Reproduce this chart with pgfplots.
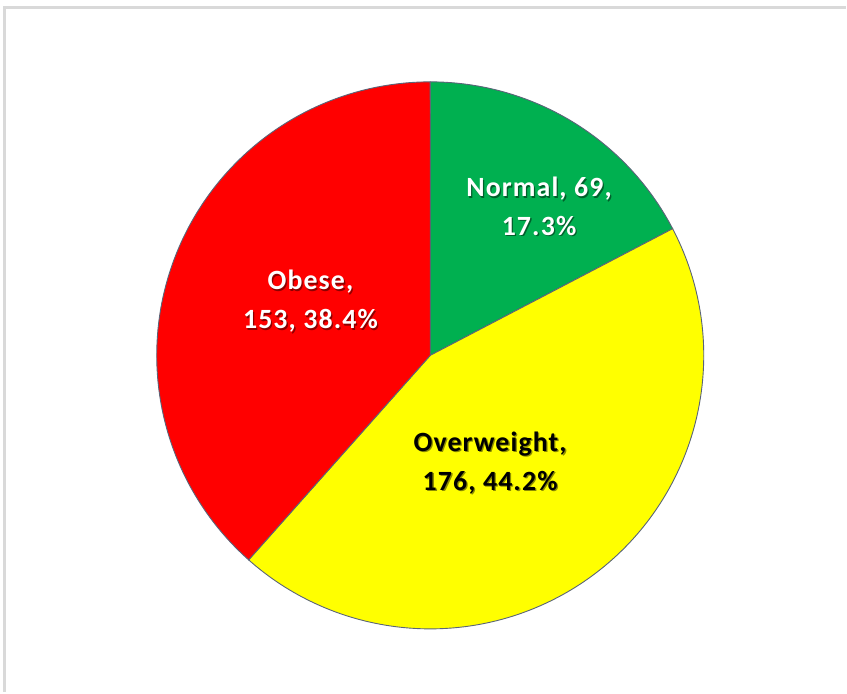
\documentclass[border=0pt]{standalone}
\usepackage{pgfplots}
\pgfplotsset{compat=1.18}
\usepackage{fontspec}
\setmainfont{Carlito}
\newfontfamily\lab[LetterSpace=4]{Carlito}
\definecolor{cgreen}{HTML}{00B050}
\definecolor{cred}{HTML}{FF0000}
\definecolor{cyellow}{HTML}{FFFF00}
\definecolor{cframe}{HTML}{D9D9D9}
\definecolor{cedge}{HTML}{5A6478}
% data
\def\vNormal{69}
\def\vOverweight{176}
\def\vObese{153}
\pgfmathsetmacro\tot{\vNormal+\vOverweight+\vObese}
\pgfmathsetmacro\aA{90}
\pgfmathsetmacro\aB{\aA-\vNormal/\tot*360}
\pgfmathsetmacro\aC{\aB-\vOverweight/\tot*360}
\pgfmathsetmacro\aD{\aC-\vObese/\tot*360}
\def\cx{431}
\def\cy{337}
\def\rr{274}
\newcommand{\plab}[4]{%
  \node[align=center,text=black,opacity=0.45,font=\lab\bfseries\fontsize{28}{39}\selectfont] at (axis cs:#1+1.3,#2-1.3) {#4};
  \node[align=center,text=#3,font=\lab\bfseries\fontsize{28}{39}\selectfont] at (axis cs:#1,#2) {#4};}
\begin{document}
\begin{tikzpicture}
\begin{axis}[
  scale only axis, width=847bp, height=693bp,
  xmin=0, xmax=847, ymin=0, ymax=693,
  hide axis, clip=false, anchor=origin, at={(0,0)}]
% chart frame (top and left edges visible)
\addplot[draw=cframe, line width=3bp] coordinates {(5,0) (5,685) (847,685)};
% slices
\addplot[fill=cgreen, draw=cedge, line width=0.9bp, domain=\aB:\aA, samples=90, variable=\t]
  ({\cx+\rr*cos(\t)},{\cy+\rr*sin(\t)}) -- (axis cs:\cx,\cy) -- cycle;
\addplot[fill=cyellow, draw=cedge, line width=0.9bp, domain=\aC:\aB, samples=150, variable=\t]
  ({\cx+\rr*cos(\t)},{\cy+\rr*sin(\t)}) -- (axis cs:\cx,\cy) -- cycle;
\addplot[fill=cred, draw=cedge, line width=0.9bp, domain=\aD:\aC, samples=150, variable=\t]
  ({\cx+\rr*cos(\t)},{\cy+\rr*sin(\t)}) -- (axis cs:\cx,\cy) -- cycle;
\plab{540}{486}{white}{Normal, 69,\\17.3\%}
\plab{311}{391}{white}{Obese,\\153, 38.4\%}
\plab{491}{229}{black}{Overweight,\\176, 44.2\%}
\end{axis}
\path[use as bounding box] (0,0) rectangle (847bp,693bp);
\end{tikzpicture}
\end{document}
